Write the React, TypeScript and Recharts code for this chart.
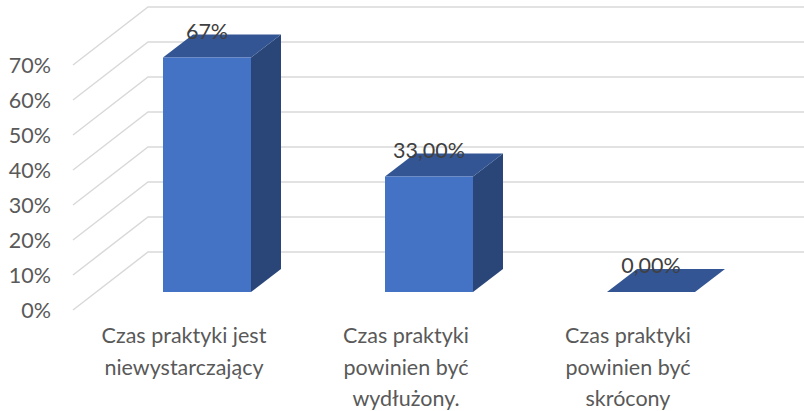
import React from 'react';
import { BarChart, Bar, XAxis, YAxis, CartesianGrid, LabelList } from 'recharts';

const categories = [
    'Czas praktyki jest\nniewystarczający',
    'Czas praktyki\npowinien być\nwydłużony.',
    'Czas praktyki\npowinien być\nskrócony',
];
const values = [67, 33, 0];
const valueLabels = ['67%', '33,00%', '0,00%'];
const yTicks = [0, 10, 20, 30, 40, 50, 60, 70];

const data = categories.map((name, i) => ({ name, value: values[i], label: valueLabels[i] }));

const FONT = 'Lato, sans-serif';
const DEPTH_X = 30;
const DEPTH_Y = 23;

// Excel style 3D column: front face + top + right side
const Bar3D = (props: any) => {
    const { x, y, width, height } = props;
    const right = x + width;
    const bottom = y + height;
    return (
        <g>
            {height > 0 && (
                <polygon
                    points={`${right},${y} ${right + DEPTH_X},${y - DEPTH_Y} ${right + DEPTH_X},${bottom - DEPTH_Y} ${right},${bottom}`}
                    fill="#2A4578"
                />
            )}
            <polygon
                points={`${x},${y} ${x + DEPTH_X},${y - DEPTH_Y} ${right + DEPTH_X},${y - DEPTH_Y} ${right},${y}`}
                fill="#335593"
            />
            {height > 0 && <rect x={x} y={y} width={width} height={height} fill="#4472C4" />}
        </g>
    );
};

// wall + floor gridline: diagonal on the side wall, then straight across the back
const gridLine = (props: any) => {
    const { x1, x2, y1, index } = props;
    return (
        <path
            key={index}
            d={`M${x1 - 23},${y1 + 18} L${x1 + 52},${y1 - 40} L${x2 + 42},${y1 - 40}`}
            fill="none"
            stroke="#D9D9D9"
            strokeWidth={1.5}
        />
    );
};

const YTick = ({ y, payload }: any) => (
    <text x={51} y={y + 26} textAnchor="end" fontSize={21.5} fontFamily={FONT} fill="#595959">
        {payload.value}%
    </text>
);

const XTick = ({ x, y, payload }: any) => (
    <text textAnchor="middle" fontSize={21.5} fontFamily={FONT} fill="#595959">
        {String(payload.value).split('\n').map((line, i) => (
            <tspan key={i} x={x - 23} y={y + 43 + i * 31.5}>{line}</tspan>
        ))}
    </text>
);

const ValueLabel = ({ x, y, width, value }: any) => (
    <text x={x + width / 2} y={y - 19} textAnchor="middle" fontSize={21.5} fontFamily={FONT} fill="#404040">
        {value}
    </text>
);

export default function App() {
    return (
        <div style={{ position: 'absolute', left: 0, top: 0 }}>
            <BarChart
                width={804}
                height={411}
                data={data}
                margin={{ top: 47, right: 42, bottom: 0, left: 0 }}
            >
                <CartesianGrid vertical={false} horizontal={gridLine} />
                <XAxis
                    dataKey="name"
                    height={119}
                    axisLine={false}
                    tickLine={false}
                    interval={0}
                    tick={<XTick />}
                />
                <YAxis
                    width={96}
                    domain={[0, 70]}
                    ticks={yTicks}
                    axisLine={false}
                    tickLine={false}
                    tick={<YTick />}
                />
                <Bar dataKey="value" barSize={88} shape={<Bar3D />} isAnimationActive={false}>
                    <LabelList dataKey="label" content={<ValueLabel />} />
                </Bar>
            </BarChart>
        </div>
    );
}
